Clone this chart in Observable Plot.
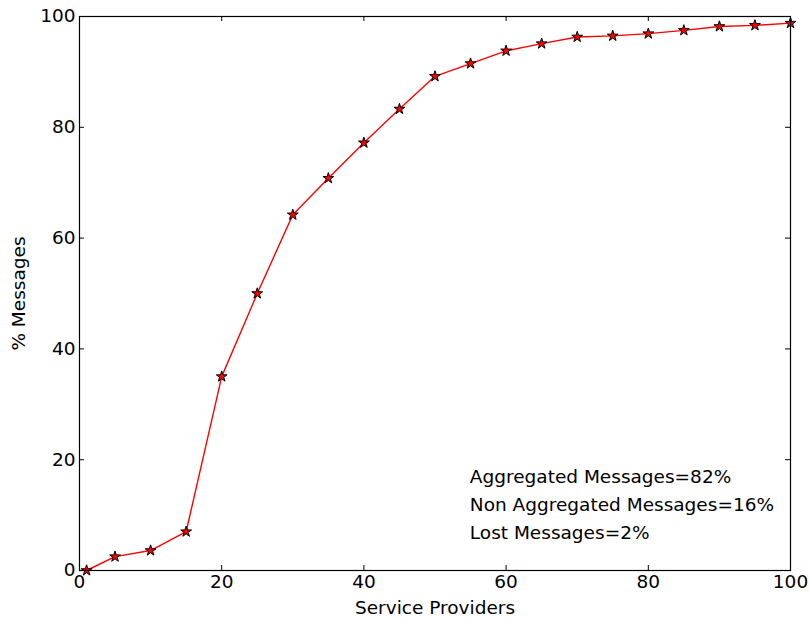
<!DOCTYPE html>
<html>
<head>
<meta charset="utf-8">
<script src="https://cdn.jsdelivr.net/npm/d3@7"></script>
<script src="https://cdn.jsdelivr.net/npm/@observablehq/plot@0.6"></script>
<style>
  html, body { margin: 0; padding: 0; background: #fff; }
</style>
</head>
<body>
<div id="chart"></div>
<script>
const providers = [1, 5, 10, 15, 20, 25, 30, 35, 40, 45, 50, 55, 60, 65, 70, 75, 80, 85, 90, 95, 100];
const messages = [0, 2.5, 3.6, 7.0, 35.0, 50.0, 64.2, 70.8, 77.2, 83.3, 89.2, 91.5, 93.8, 95.1, 96.3, 96.5, 96.9, 97.5, 98.2, 98.4, 98.8];
const xTicks = [0, 20, 40, 60, 80, 100];
const yTicks = [0, 20, 40, 60, 80, 100];
const innerXTicks = [20, 40, 60, 80];
const innerYTicks = [20, 40, 60, 80];
const notes = ["Aggregated Messages=82%", "Non Aggregated Messages=16%", "Lost Messages=2%"];
const noteY = [16.8, 11.8, 6.8];
const noteX = 54.9;

const data = providers.map((p, i) => ({x: p, y: messages[i]}));
const noteData = notes.map((t, i) => ({text: t, x: noteX, y: noteY[i]}));
const FS = "18.5px";

const chart = Plot.plot({
  width: 809,
  height: 618,
  marginLeft: 79,
  marginRight: 19,
  marginTop: 16,
  marginBottom: 48,
  style: {fontFamily: "DejaVu Sans", fontSize: FS, color: "black", background: "white"},
  x: {domain: [0, 100]},
  y: {domain: [0, 100]},
  marks: [
    Plot.axisX({ticks: xTicks, tickSize: 0, tickPadding: 4, tickFormat: d => String(d), label: "Service Providers", labelAnchor: "center", labelArrow: "none", labelOffset: 43, fontSize: FS}),
    Plot.axisY({ticks: yTicks, tickSize: 0, tickPadding: 4, tickFormat: d => String(d), label: "% Messages", labelAnchor: "center", labelArrow: "none", labelOffset: 68, fontSize: FS}),
    // inward ticks on all four sides
    Plot.ruleX(innerXTicks, {x: d => d, y1: 0, y2: 0.9, stroke: "black"}),
    Plot.ruleX(innerXTicks, {x: d => d, y1: 100, y2: 99.1, stroke: "black"}),
    Plot.ruleY(innerYTicks, {y: d => d, x1: 0, x2: 0.7, stroke: "black"}),
    Plot.ruleY(innerYTicks, {y: d => d, x1: 100, x2: 99.3, stroke: "black"}),
    Plot.line(data, {x: "x", y: "y", stroke: "red", strokeWidth: 1.4}),
    Plot.dot(data, {x: "x", y: "y", symbol: "star", r: 3.4, fill: "red", stroke: "black", strokeWidth: 1}),
    Plot.text(noteData, {x: "x", y: "y", text: "text", textAnchor: "start", fill: "black", fontSize: 18.5}),
    Plot.frame({stroke: "black", strokeWidth: 1.2})
  ]
});
document.getElementById("chart").appendChild(chart);
</script>
</body>
</html>
